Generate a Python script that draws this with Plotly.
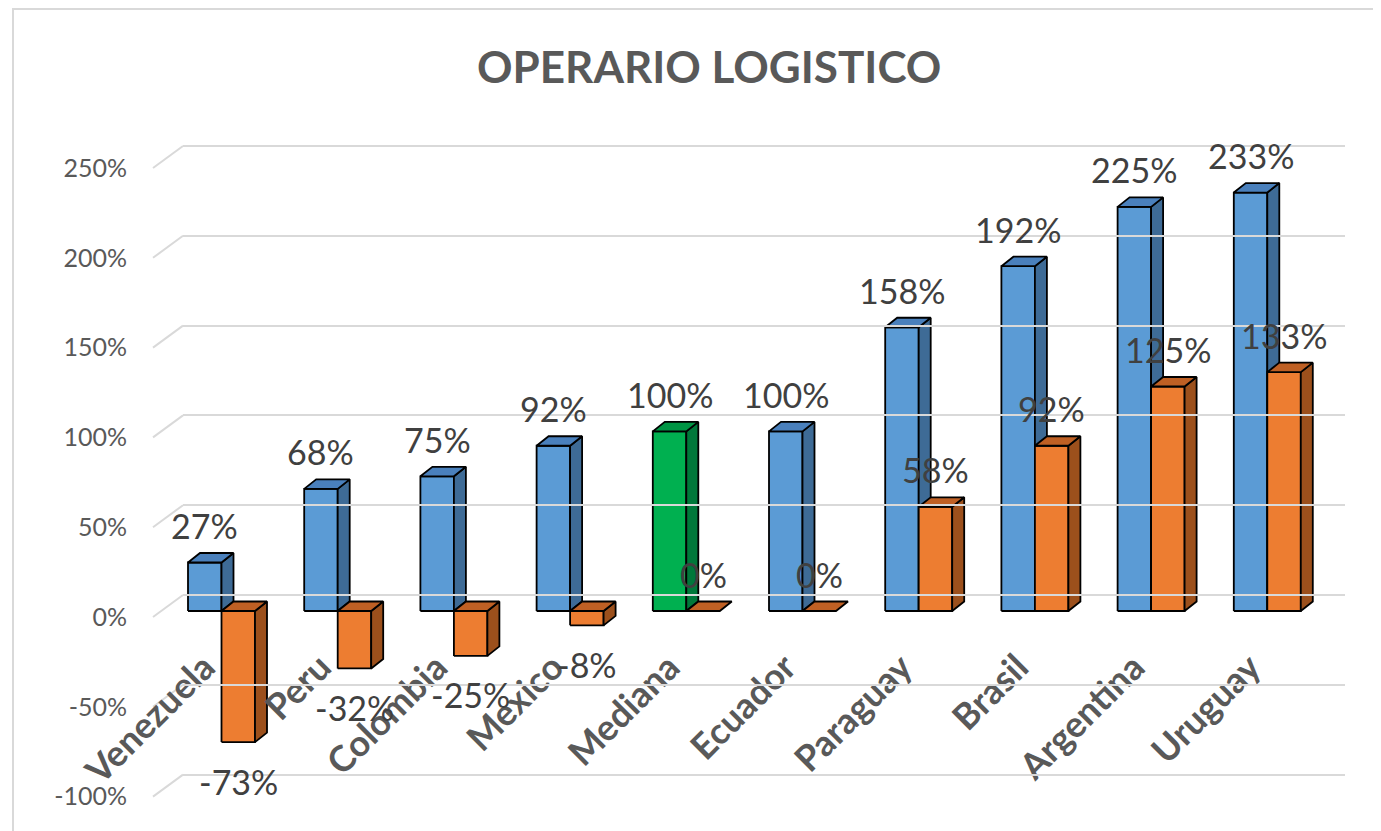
import plotly.graph_objects as go

# ---------------- data ----------------
categories = ["Venezuela", "Peru", "Colombia", "Mexico", "Mediana",
              "Ecuador", "Paraguay", "Brasil", "Argentina", "Uruguay"]
serie_1 = [27, 68, 75, 92, 100, 100, 158, 192, 225, 233]
serie_2 = [-73, -32, -25, -8, 0, 0, 58, 92, 125, 133]
highlight = "Mediana"
y_ticks = [-100, -50, 0, 50, 100, 150, 200, 250]
y_ticktext = ["-100%", "-50%", "0%", "50%", "100%", "150%", "200%", "250%"]
title_text = "OPERARIO LOGISTICO"

# ---------------- geometry / style ----------------
OFF = 8                      # page body margin in the browser
W, H = 1381 - OFF, 831 - OFF


def X(px):  # window px -> figure px
    return px - OFF


ML, MR, MT, MB = X(153), 1381 - 1345, X(100), 0
PW, PH = W - ML - MR, H - MT - MB
K = 1.796            # px per percent unit
Y0_PX = X(617)       # pixel row of 0% (front grid)
UNIT = 116.2         # px per category
C0_PX = X(221.5)     # pixel column of first category centre

y_top = (Y0_PX - MT) / K
y_bot = y_top - PH / K
x_left = (ML - C0_PX) / UNIT
x_right = x_left + PW / UNIT

BAR_W = 33.5 / UNIT
DX = 12 / UNIT
DY = 9.5 / K
BAR_SHIFT = 6 / K     # bars baseline sits 6px above the front grid zero
BACK_SHIFT = 22 / K   # back wall offset
BACK_DX_PX = 30

FONT = "Lato"
GREY = "#595959"

C_BLUE = ("#5B9BD5", "#3E6B96", "#4A80BC")
C_GREEN = ("#00B050", "#00783A", "#009544")
C_ORANGE = ("#ED7D31", "#9C501C", "#BF6024")


def faces(x_lefts, vals):
    fx, fy, sx, sy, tx, ty = [], [], [], [], [], []
    for xl, v in zip(x_lefts, vals):
        lo, hi = min(0, v), max(0, v)
        xr = xl + BAR_W
        if hi > lo:
            fx += [xl, xr, xr, xl, xl, None]
            fy += [lo, lo, hi, hi, lo, None]
            sx += [xr, xr + DX, xr + DX, xr, xr, None]
            sy += [lo, lo + DY, hi + DY, hi, lo, None]
        tx += [xl, xr, xr + DX, xl + DX, xl, None]
        ty += [hi, hi, hi + DY, hi + DY, hi, None]
    return (fx, fy), (sx, sy), (tx, ty)


def add_faces(fig, x_lefts, vals, cols):
    for (xx, yy), col in zip(faces(x_lefts, vals), cols):
        if not xx:
            continue
        fig.add_trace(go.Scatter(
            x=xx, y=yy, mode="lines", fill="toself", fillcolor=col,
            line=dict(color="#000000", width=1.8), xaxis="x", yaxis="y2",
            hoverinfo="skip", showlegend=False))


fig = go.Figure()

# invisible trace to carry the back-wall grid axes
fig.add_trace(go.Scatter(x=[0.5], y=[0], xaxis="x3", yaxis="y3", mode="markers",
                         marker=dict(opacity=0), hoverinfo="skip", showlegend=False))

idx = list(range(len(categories)))
blue_idx = [i for i in idx if categories[i] != highlight]
green_idx = [i for i in idx if categories[i] == highlight]

add_faces(fig, [i - BAR_W for i in blue_idx], [serie_1[i] for i in blue_idx], C_BLUE)
add_faces(fig, [i - BAR_W for i in green_idx], [serie_1[i] for i in green_idx], C_GREEN)
add_faces(fig, [i for i in idx], serie_2, C_ORANGE)

annotations = []
for i in idx:
    for xc, v in ((i - BAR_W / 2, serie_1[i]), (i + BAR_W / 2, serie_2[i])):
        annotations.append(dict(
            x=xc, y=v, xref="x", yref="y2", text=f"{v}%", showarrow=False,
            yshift=37 if v >= 0 else -39, xanchor="center", yanchor="middle",
            font=dict(family=FONT, size=34, color="#404040")))

annotations.append(dict(
    x=(X(709) - ML) / PW, y=(H - MB - X(66)) / PH, xref="paper", yref="paper",
    text=f"<b>{title_text}</b>", showarrow=False, xanchor="center", yanchor="middle",
    font=dict(family=FONT, size=44, color=GREY)))

shapes = []
for v in y_ticks:
    shapes.append(dict(type="line", xref="paper", yref="y",
                       x0=0, x1=BACK_DX_PX / PW, y0=v, y1=v + BACK_SHIFT,
                       line=dict(color="#D9D9D9", width=2), layer="below"))
# chart border
shapes.append(dict(type="rect", xref="paper", yref="paper",
                   x0=(X(13) - ML) / PW, x1=(X(1376) - ML) / PW,
                   y0=(H - MB - X(840)) / PH, y1=(H - MB - X(9)) / PH,
                   line=dict(color="#D9D9D9", width=2), layer="below"))

AXIS_PX = X(638)
fig.update_layout(
    width=W, height=H,
    margin=dict(l=ML, r=MR, t=MT, b=MB),
    paper_bgcolor="white", plot_bgcolor="rgba(0,0,0,0)",
    showlegend=False,
    annotations=annotations, shapes=shapes,
    xaxis=dict(range=[x_left, x_right], domain=[0, 1], anchor="free",
               position=(H - MB - AXIS_PX) / PH,
               tickmode="array", tickvals=idx, ticktext=categories,
               tickangle=-45, showgrid=False, zeroline=False, showline=False,
               ticks="", ticklabelshift=-17,
               tickfont=dict(family=FONT, size=36, color=GREY, weight="bold"),
               layer="above traces"),
    yaxis=dict(range=[y_bot, y_top], tickmode="array", tickvals=y_ticks,
               ticktext=y_ticktext, showgrid=False, zeroline=False, showline=False,
               ticks="", ticklabelstandoff=25,
               tickfont=dict(family=FONT, size=25, color=GREY)),
    yaxis2=dict(range=[y_bot - BAR_SHIFT, y_top - BAR_SHIFT], overlaying="y",
                visible=False, showgrid=False),
    xaxis3=dict(domain=[BACK_DX_PX / PW, 1], range=[0, 1], visible=False,
                showgrid=False, anchor="y3"),
    yaxis3=dict(range=[y_bot - BACK_SHIFT, y_top - BACK_SHIFT], anchor="x3",
                tickmode="array", tickvals=y_ticks, showticklabels=False,
                showgrid=True, gridcolor="#D9D9D9", gridwidth=2,
                zeroline=False, showline=False, ticks=""),
)

fig.write_html("out.html")
